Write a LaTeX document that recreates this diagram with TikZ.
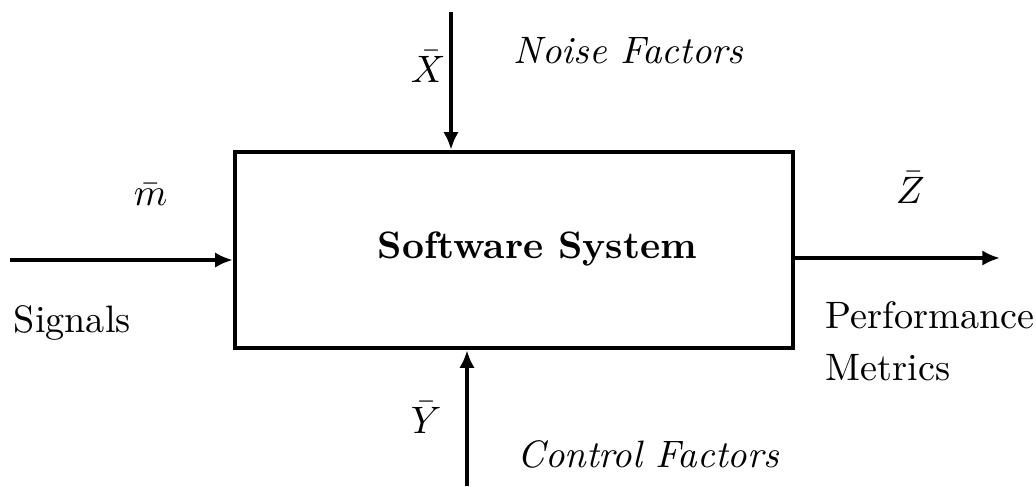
\documentclass[tikz,border=0pt]{standalone}
\usetikzlibrary{arrows.meta,fit}
\begin{document}
\begin{tikzpicture}[x=0.2618pt,y=-0.2618pt,
  arr/.style={line width=1.1pt,-{Latex[length=4.6pt,width=4pt]}},
  lbl/.style={anchor=base west,inner sep=0pt,font=\fontsize{10}{12}\selectfont},
  box/.style={draw,line width=1.15pt,inner sep=0pt}]
\useasboundingbox (0,0) rectangle (1036,486);
\node[box,fit={(235,152) (793,348)}] (sys) {};
\node[lbl,font=\fontsize{10}{12}\selectfont\bfseries] (title) at (377,258) {Software System};
\coordinate (nin) at (451,12);
\coordinate (cin) at (467,486);
\coordinate (sin) at (10,260);
\coordinate (pout) at (1000,258);
\draw[arr] (nin) -- (nin |- sys.north);
\draw[arr] (cin) -- (cin |- sys.south);
\draw[arr] (sin) -- (sin -| sys.west);
\draw[arr] (pout -| sys.east) -- (pout);
\node[lbl] (xbar) at (410,82) {$\bar{X}$};
\node[lbl] (noise) at (513,63) {\itshape Noise Factors};
\node[lbl] (mbar) at (133,205) {$\bar{m}$};
\node[lbl] (zbar) at (895,203) {$\bar{Z}$};
\node[lbl] (sig) at (13,332) {Signals};
\node[lbl] (perf) at (825,328) {Performance};
\node[lbl] (metr) at (825,380) {Metrics};
\node[lbl] (ybar) at (410,433) {$\bar{Y}$};
\node[lbl] (ctrl) at (517,467) {\itshape Control Factors};
\end{tikzpicture}
\end{document}
